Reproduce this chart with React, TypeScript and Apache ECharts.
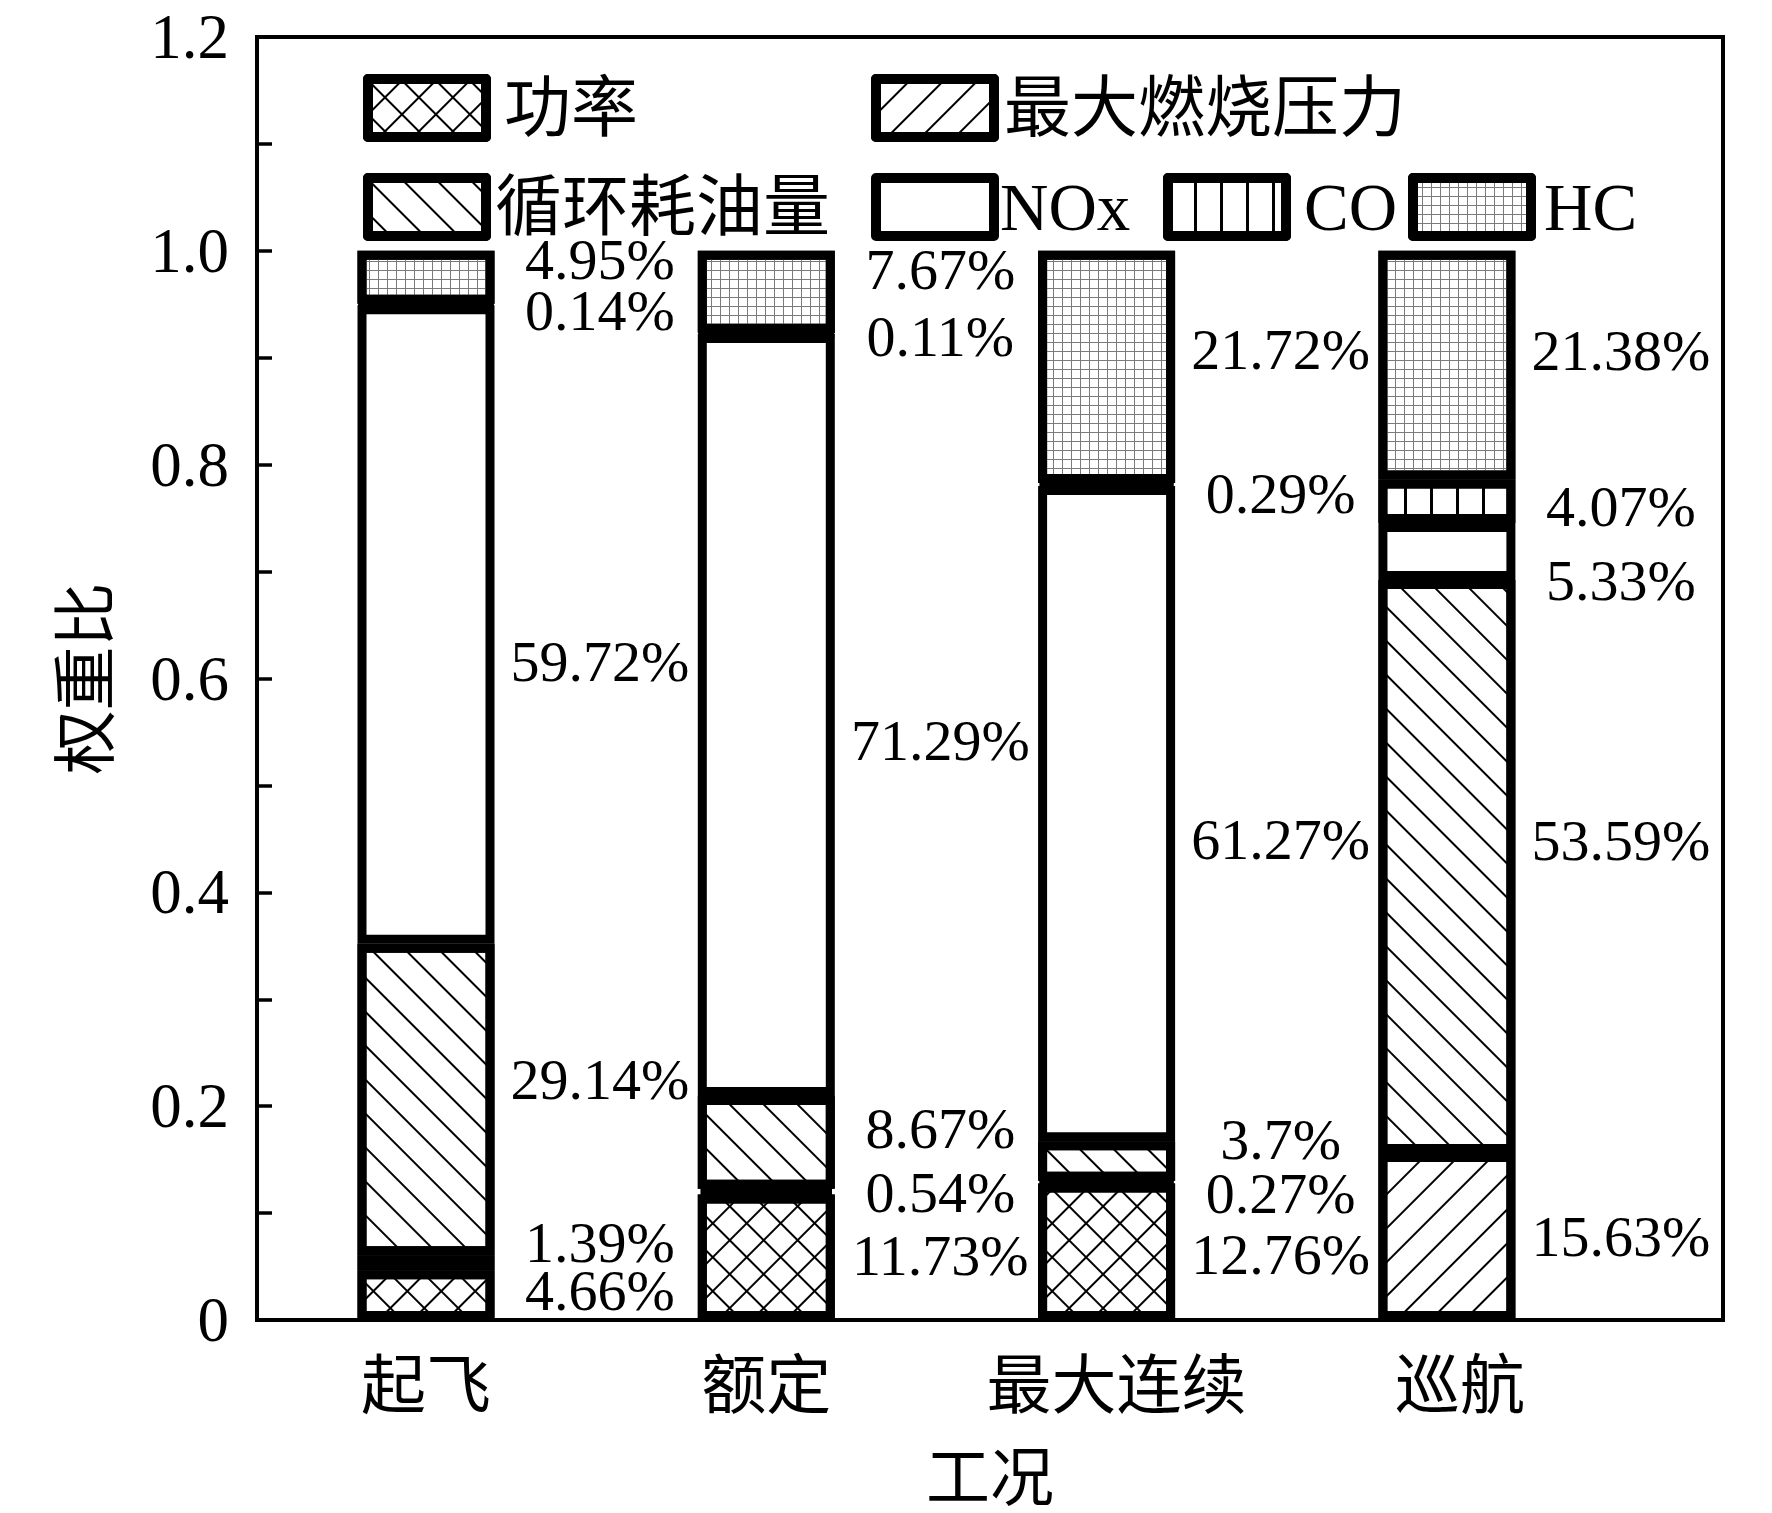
import React, { useEffect, useRef } from 'react';
import * as echarts from 'echarts';

const categories = ['起飞', '额定', '最大连续', '巡航'];
const seriesNames = ['功率', '最大燃烧压力', '循环耗油量', 'NOx', 'CO', 'HC'];
// percentages of each factor per operating condition (bottom to top)
const powerPct = [4.66, 11.73, 12.76, 0];
const pressurePct = [1.39, 0.54, 0.27, 15.63];
const fuelPct = [29.14, 8.67, 3.7, 53.59];
const noxPct = [59.72, 71.29, 61.27, 5.33];
const coPct = [0.14, 0.11, 0.29, 4.07];
const hcPct = [4.95, 7.67, 21.72, 21.38];
const yTickLabels = ['0', '0.2', '0.4', '0.6', '0.8', '1.0', '1.2'];

// vertical nudges (px) of the percentage labels relative to segment centres
const powerNudge = [-5, -2, 3, 0];
const pressureNudge = [-20, 1, 11, 0];
const fuelNudge = [-20, -14, -21, -26];
const noxNudge = [37, 25, 26, 29];
const coNudge = [6, 3, 9, 5];
const hcNudge = [-18, -22, -17, -15];

const SERIF = "'Liberation Serif', 'Noto Sans CJK SC', serif";
const CJK = "'Noto Sans CJK SC', 'Liberation Serif', sans-serif";

const base = { symbol: 'rect', symbolSize: 1, symbolKeepAspect: false };
const decals: any[] = [
  // cross hatch: grid of lines rotated 45°
  { ...base, color: '#000', dashArrayX: [[1, 0], [2, 22]], dashArrayY: [2, 0, 22, 0], rotation: Math.PI / 4 },
  // forward hatch
  { ...base, color: '#000', dashArrayX: [1, 0], dashArrayY: [2, 22], rotation: -Math.PI / 4 },
  // backward hatch
  { ...base, color: '#000', dashArrayX: [1, 0], dashArrayY: [2, 22], rotation: Math.PI / 4 },
  null,
  // vertical lines
  { ...base, color: '#000', dashArrayX: [3, 23], dashArrayY: [1, 0], rotation: 0 },
  // fine grey grid
  { ...base, color: '#7a7a7a', dashArrayX: [[1, 0], [1, 8]], dashArrayY: [1, 0, 8, 0], rotation: 0 },
];

const pctTable = [powerPct, pressurePct, fuelPct, noxPct, coPct, hcPct];
const nudgeTable = [powerNudge, pressureNudge, fuelNudge, noxNudge, coNudge, hcNudge];

const legendLeft = [363, 871, 363, 871, 1163, 1408];
const legendTop = [74, 74, 173, 173, 173, 173];
const legendTextPad = [13, 5, 4, 1, 13, 8];
const categoryLabelPad = [0, 0, 20, 26];

export default function App() {
  const ref = useRef<HTMLDivElement>(null);
  useEffect(() => {
    if (!ref.current) return;
    document.body.style.margin = '0';
    const chart = echarts.init(ref.current, null, { renderer: 'svg' });

    const series = seriesNames.map((name, s) => {
      const pct = pctTable[s];
      const nudge = nudgeTable[s];
      const itemStyle: any = { color: '#fff', borderColor: '#000', borderWidth: 9 };
      if (decals[s]) itemStyle.decal = decals[s];
      return {
        name,
        type: 'bar',
        stack: 'total',
        xAxisIndex: 1,
        yAxisIndex: 1,
        barWidth: 137,
        clip: true,
        itemStyle,
        label: {
          show: true,
          position: 'inside',
          color: '#000',
          fontFamily: SERIF,
          fontSize: 58,
          lineHeight: 46,
          textBorderWidth: 0,
          formatter: (p: any) => `${pct[p.dataIndex]}%`,
        },
        data: pct.map((v, i) =>
          v === 0 ? '-' : { value: v / 100, label: { offset: [174, nudge[i]] } }
        ),
      };
    });

    const legends = seriesNames.map((name, s) => ({
      data: [name],
      left: legendLeft[s],
      top: legendTop[s],
      padding: 0,
      icon: 'rect',
      itemWidth: 118,
      itemHeight: 58,
      itemStyle: { borderWidth: 10, borderColor: '#000', borderJoin: 'round' },
      textStyle: {
        fontFamily: SERIF,
        fontSize: 67,
        color: '#000',
        lineHeight: 50,
        padding: [0, 0, 0, legendTextPad[s]],
      },
      selectedMode: false,
    }));

    chart.setOption({
      animation: false,
      backgroundColor: '#fff',
      legend: legends,
      grid: [
        { left: 257, top: 37, width: 1466, height: 1283, show: true, borderColor: '#000', borderWidth: 4, backgroundColor: 'transparent' },
        { left: 255.85, top: 37, width: 1361.2, height: 1283 },
      ],
      xAxis: [
        {
          gridIndex: 0, type: 'value', min: 0, max: 1,
          axisLine: { show: false }, axisTick: { show: false }, axisLabel: { show: false }, splitLine: { show: false },
          name: '工况', nameLocation: 'middle', nameGap: 124,
          nameTextStyle: { fontFamily: CJK, fontSize: 64, color: '#000', lineHeight: 56 },
        },
        {
          gridIndex: 1, type: 'category',
          data: categories.map((c, i) => ({ value: c, textStyle: { padding: [0, 0, 0, categoryLabelPad[i]] } })),
          axisLine: { show: false }, axisTick: { show: false },
          axisLabel: { fontFamily: CJK, fontSize: 65, color: '#000', margin: 27 },
        },
      ],
      yAxis: [
        {
          gridIndex: 0, type: 'value', min: 0, max: 1.2, interval: 0.1,
          axisLine: { show: false },
          axisTick: { show: true, inside: true, length: 15, lineStyle: { color: '#000', width: 3.5 } },
          splitLine: { show: false },
          axisLabel: {
            fontFamily: SERIF, fontSize: 63, color: '#000', margin: 28,
            formatter: (v: number) => {
              const k = Math.round(v * 10);
              return k % 2 === 0 ? yTickLabels[k / 2] : '';
            },
          },
          name: '权重比', nameLocation: 'middle', nameGap: 145, nameRotate: 90,
          nameTextStyle: { fontFamily: CJK, fontSize: 64, color: '#000' },
        },
        { gridIndex: 1, type: 'value', min: 0, max: 1.2, show: false },
      ],
      series,
    });
    return () => chart.dispose();
  }, []);
  return <div ref={ref} style={{ position: 'fixed', left: 0, top: 0, width: 1772, height: 1513 }} />;
}
